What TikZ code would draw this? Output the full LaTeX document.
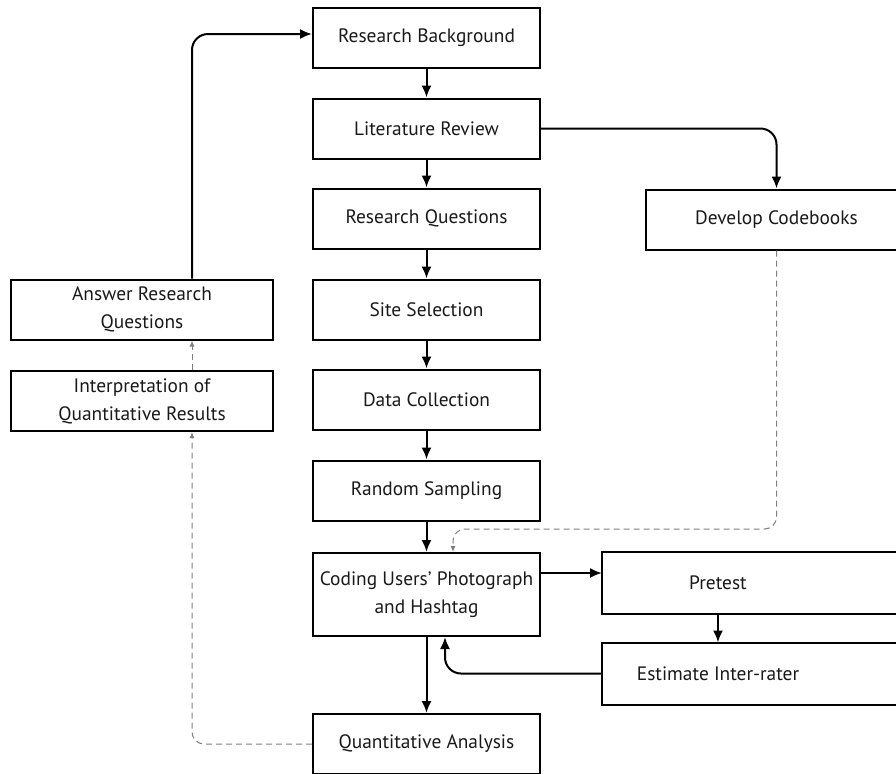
\documentclass[tikz,border=0pt]{standalone}
\usepackage{fontspec}
\setmainfont{PT Sans}
\usetikzlibrary{arrows.meta,positioning}

\tikzset{
  stepbox/.style={draw, line width=1pt, minimum width=113.5pt, minimum height=30pt,
    align=center, inner sep=2pt, text=black!90, font=\fontsize{9.7}{14}\selectfont},
  sidebox/.style={stepbox, minimum width=131pt},
  openbox/.style={stepbox, draw=none, minimum width=115pt},
  flow/.style={line width=1pt, -{Latex[length=6pt,width=5pt]}},
  loose/.style={gray, line width=0.5pt, dash pattern=on 3pt off 2pt, -{Latex[length=3pt,width=2.5pt]}}
}

\begin{document}
\begin{tikzpicture}[x=0.5pt, y=-0.5pt]
            \useasboundingbox (0,0) rectangle (896,773);
            \clip (0,0) rectangle (896,773);

            % main column
            \node[stepbox] (back) at (426.5, 38) {Research Background};
            \node[stepbox] (lit) at (426.5, 128.5) {Literature Review};
            \node[stepbox] (rq) at (426.5, 218.5) {Research Questions};
            \node[stepbox] (site) at (426.5, 309.5) {Site Selection};
            \node[stepbox] (collect) at (426.5, 399.5) {Data Collection};
            \node[stepbox] (sample) at (426.5, 490.5) {Random Sampling};
            \node[stepbox, minimum height=41.5pt] (coding) at (426.5, 594.5) {Coding Users’ Photograph\\and Hashtag};
            \node[stepbox] (qa) at (426.5, 744) {Quantitative Analysis};

            % right column
            \node[stepbox, minimum width=130.5pt] (codebook) at (776.5, 219.5) {Develop Codebooks};
            \node[openbox] (pre) at (718, 582.5) {Pretest};
            \node[openbox] (est) at (718, 673.5) {Estimate Inter-rater};
            \draw[line width=1pt] (pre.north west) rectangle ([xshift=45pt]pre.south east);
            \draw[line width=1pt] (est.north west) rectangle ([xshift=45pt]est.south east);

            % left column
            \node[sidebox] (answer) at (142, 309.5) {Answer Research\\Questions};
            \node[sidebox] (interp) at (142, 401) {Interpretation of\\Quantitative Results};

            \draw[flow] (back) -- (lit);
            \draw[flow] (lit) -- (rq);
            \draw[flow] (rq) -- (site);
            \draw[flow] (site) -- (collect);
            \draw[flow] (collect) -- (sample);
            \draw[flow] (sample) -- (coding);
            \draw[flow] (coding) -- (qa);

            \draw[flow, rounded corners=8pt] (lit.east) -| (codebook.north);
            \draw[flow, rounded corners=8pt] ([xshift=25pt]answer.north) |- ([yshift=2pt]back.west);

            \coordinate (c1) at ([yshift=10.75pt]coding.east);
            \draw[flow] (c1) -- (c1 -| pre.west);
            \draw[flow] (pre) -- (est);
            \draw[flow, rounded corners=8pt] (est.west) -| ([xshift=9.25pt]coding.south);

            \coordinate (bend) at (453, 529);
            \draw[loose, rounded corners=6pt] (codebook.south) |- (bend) -- (bend |- coding.north);
            \draw[loose, rounded corners=6pt] (qa.west) -| ([xshift=25pt]interp.south);
            \draw[loose] ([xshift=25pt]interp.north) -- ([xshift=25pt]answer.south);

        \end{tikzpicture}
\end{document}
